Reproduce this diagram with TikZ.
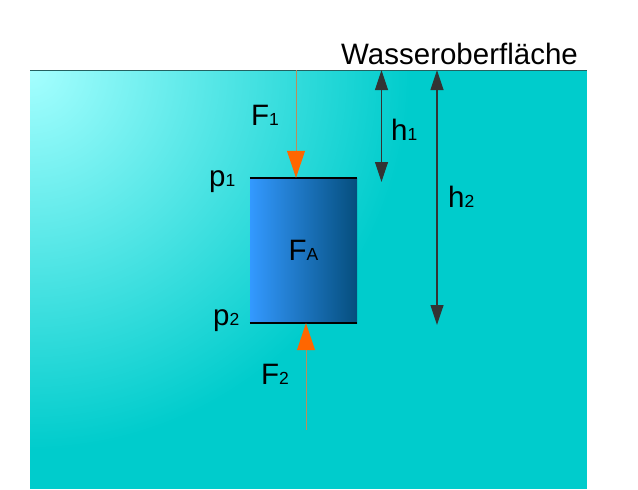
\documentclass[tikz,border=0pt]{standalone}
\usepackage{fontspec}
\setmainfont{Liberation Sans}
\usetikzlibrary{arrows.meta}

\definecolor{water}{RGB}{0,204,204}
\definecolor{waterlight}{RGB}{165,255,255}
\definecolor{bodyleft}{RGB}{51,153,255}
\definecolor{bodyright}{RGB}{5,78,125}
\definecolor{forcehead}{RGB}{255,102,0}
\definecolor{forceline}{RGB}{190,140,90}
\definecolor{depth}{RGB}{51,51,51}

\newcommand{\lowidx}[1]{{\fontsize{17.5}{18}\selectfont #1}}

\tikzset{
	label text/.style={anchor=base west,inner sep=0pt,font=\fontsize{29.5}{30}\selectfont},
	force/.style={forceline,line width=1pt,-{Triangle[color=forcehead,length=27pt,width=18pt]}},
	depth arrow/.style={depth,line width=1.2pt,{Triangle[length=20pt,width=13pt]}-{Triangle[length=20pt,width=13pt]}},
	face/.style={black,line width=2pt}
}

\begin{document}
\begin{tikzpicture}[x=1pt,y=-1pt]

	\useasboundingbox (0,0) rectangle (638,490);

	\fill[water] (30,70) rectangle (587,489);
	\begin{scope}
		\clip (30,70) rectangle (587,489);
		\shade[inner color=waterlight,outer color=water] (30,70) circle (380);
	\end{scope}
	\draw[depth!70!water,line width=0.8pt] (30,70) -- (587,70);

	\node[shade,left color=bodyleft,right color=bodyright,minimum width=107pt,minimum height=145pt,inner sep=0pt,font=\fontsize{29.5}{30}\selectfont] (body) at (303.5,250.5) {F\lowidx{A}};
	\draw[face] (body.north west) -- (body.north east);
	\draw[face] (body.south west) -- (body.south east);

	\coordinate (f1start) at (296,70);
	\coordinate (f2start) at (306,430);
	\draw[force] (f1start) -- (f1start |- body.north);
	\draw[force] (f2start) -- (f2start |- body.south);

	\coordinate (h1top) at (381.5,70);
	\coordinate (h1bottom) at (381.5,182);
	\coordinate (h2top) at (437,70);
	\coordinate (h2bottom) at (437,325);
	\draw[depth arrow] (h1top) -- (h1bottom);
	\draw[depth arrow] (h2top) -- (h2bottom);

	\begin{scope}[every node/.style={label text}]
		\node (surface) at (341,64) {Wasseroberfläche};
		\node (f1label) at (251,125) {F\lowidx{1}};
		\node (f2label) at (261,384) {F\lowidx{2}};
		\node (h1label) at (391,140) {h\lowidx{1}};
		\node (h2label) at (448,207) {h\lowidx{2}};
		\node (p1label) at (209,186) {p\lowidx{1}};
		\node (p2label) at (213,325) {p\lowidx{2}};
	\end{scope}

\end{tikzpicture}
\end{document}
